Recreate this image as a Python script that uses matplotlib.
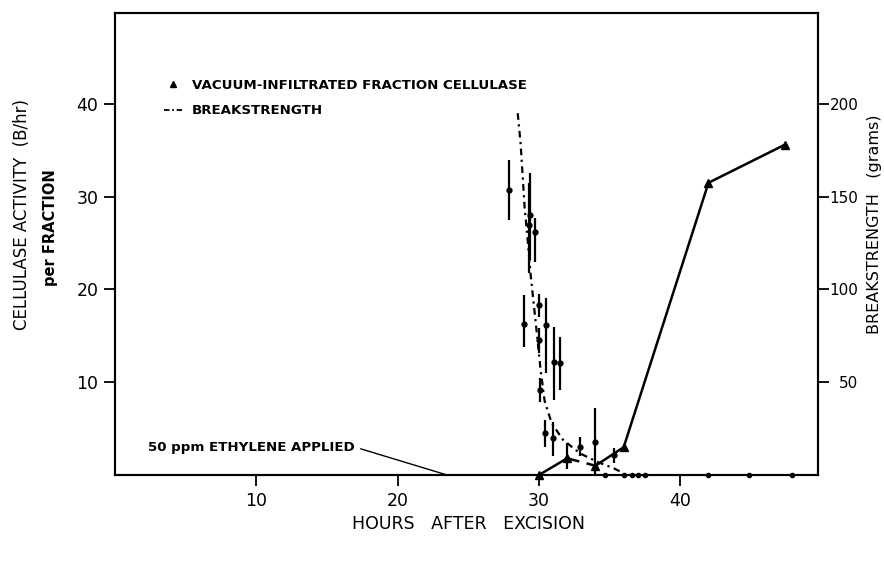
import numpy as np
import matplotlib
matplotlib.use("Agg")
import matplotlib.pyplot as plt
from matplotlib.lines import Line2D

# vacuum-infiltrated fraction cellulase (triangles)
tri_hours = [30, 32, 34, 36, 42, 47.4]
tri_cellulase = [0, 1.8, 1.0, 3.0, 31.5, 35.6]

# individual fractions with error bars
frac_hours = [27.9, 28.95, 29.3, 29.4, 29.7, 30.0, 30.0, 30.05, 30.5, 31.1, 31.5,
              30.4, 31.0, 32.0, 32.9, 34.0, 35.3]
frac_cellulase = [30.7, 16.3, 27.0, 28.0, 26.2, 18.3, 14.5, 9.2, 16.2, 12.2, 12.1,
                  4.5, 4.0, 1.7, 3.0, 3.6, 2.2]
frac_low = [27.5, 13.8, 21.8, 23.2, 23.0, 17.0, 13.2, 7.9, 11.0, 8.1, 9.2,
            3.0, 2.0, 0.7, 2.0, 0.0, 1.3]
frac_high = [34.0, 19.4, 31.5, 32.6, 27.7, 19.5, 15.8, 10.5, 19.1, 16.0, 14.9,
             5.9, 5.7, 3.4, 4.1, 7.2, 2.9]

# breakstrength (grams)
bs_hours = [28.5, 28.7, 28.85, 29.0, 29.2, 29.4, 29.65, 29.9, 30.1, 30.4, 30.9,
            31.7, 32.9, 34.1, 35.3, 36.0]
bs_grams = [195, 179, 161, 143, 127, 109, 91, 73, 58, 40, 28, 19, 11.7, 7.2, 3.6, 0.9]

# zero breakstrength points along the axis
zero_hours = [34.7, 36.0, 36.6, 37.0, 37.5, 42.0, 44.9, 47.9]
zero_grams = [0, 0, 0, 0, 0, 0, 0, 0]

ethylene_hour = 23.5

x_ticks = [10, 20, 30, 40]
left_ticks = [10, 20, 30, 40]
right_ticks = [50, 100, 150, 200]

W, H = 884, 561
fig = plt.figure(figsize=(W / 100, H / 100), dpi=100)
ax = fig.add_axes([115 / W, 1 - 475 / H, 703 / W, 462 / H])
ax2 = ax.twinx()

ax.set_xlim(0, 49.75)
ax.set_ylim(0, 49.8)
ax2.set_ylim(0, 249)

for a in (ax, ax2):
    for s in a.spines.values():
        s.set_linewidth(1.5)

ax.set_xticks(x_ticks)
ax.set_yticks(left_ticks)
ax2.set_yticks(right_ticks)
ax.tick_params(axis='both', direction='out', length=8, width=1.3,
               labelsize=12.5, pad=4)
ax2.tick_params(axis='y', direction='out', length=8, width=1.3,
                labelsize=11, pad=21)
for lab in ax2.get_yticklabels():
    lab.set_horizontalalignment('right')

# cellulase line (segment 32-34 dashed)
ax.plot(tri_hours[:2], tri_cellulase[:2], '-', color='black', lw=1.8)
ax.plot(tri_hours[1:3], tri_cellulase[1:3], '--', color='black', lw=1.8,
        dashes=(5, 3))
ax.plot(tri_hours[2:], tri_cellulase[2:], '-', color='black', lw=1.8)
ax.plot(tri_hours, tri_cellulase, '^', color='black', ms=6, clip_on=False)

ax.errorbar(frac_hours, frac_cellulase,
            yerr=[np.subtract(frac_cellulase, frac_low),
                  np.subtract(frac_high, frac_cellulase)],
            fmt='o', color='black', ms=3.5, elinewidth=1.6, capsize=0)

ax2.plot(bs_hours, bs_grams, color='black', lw=1.6,
         linestyle=(0, (3, 2, 1, 2)))
ax2.plot(zero_hours, zero_grams, 'o', color='black', ms=3, clip_on=False)

ax.annotate("50 ppm ETHYLENE APPLIED", xy=(ethylene_hour, 0), xytext=(17.0, 3.0),
            ha='right', va='center', fontsize=9.6, fontweight='bold',
            arrowprops=dict(arrowstyle='-', lw=1, color='black',
                            shrinkA=2, shrinkB=0, relpos=(1, 0.5)))

handles = [Line2D([], [], marker='^', ls='none', color='black', ms=4),
           Line2D([], [], ls=(0, (3, 1.5, 1, 1.5)), color='black', lw=1.3)]
ax.legend(handles, ["VACUUM-INFILTRATED FRACTION CELLULASE", "BREAKSTRENGTH"],
          loc='upper left', bbox_to_anchor=(0.06, 0.872), frameon=False,
          prop={'weight': 'bold', 'size': 9.6}, handlelength=1.4,
          handletextpad=0.7, labelspacing=0.95, borderpad=0)

fig.text(22 / W, 1 - 214 / H, "CELLULASE ACTIVITY  (B/hr)", rotation=90,
         ha='center', va='center', fontsize=12)
fig.text(50 / W, 1 - 228 / H, "per FRACTION", rotation=90,
         ha='center', va='center', fontsize=10.5, fontweight='bold')
fig.text(874 / W, 1 - 224 / H, "BREAKSTRENGTH   (grams)", rotation=90,
         ha='center', va='center', fontsize=11.5)
fig.text(469 / W, 1 - 524 / H, "HOURS   AFTER   EXCISION",
         ha='center', va='center', fontsize=12.5)

fig.savefig("out.png", dpi=100)
